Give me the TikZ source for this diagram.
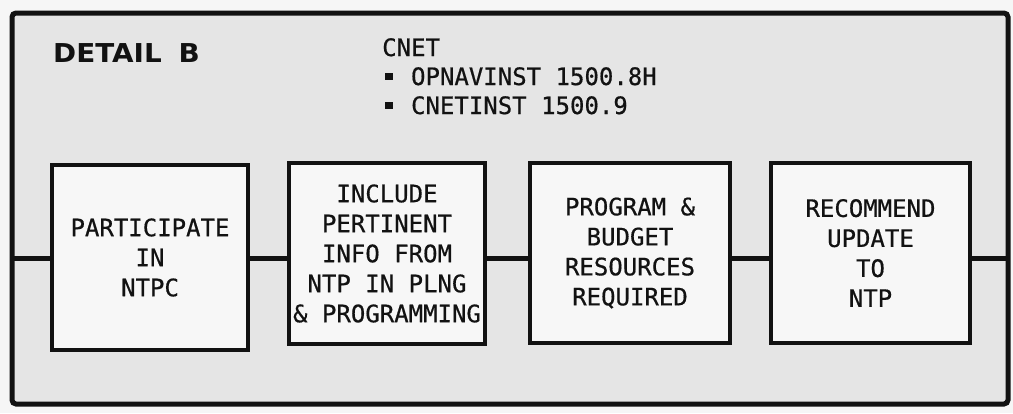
\documentclass[tikz,border=0pt]{standalone}
\usepackage{fontspec}
\usepackage{graphicx}
\newfontfamily\monofont[FakeBold=0.6]{DejaVu Sans Mono}
\newfontfamily\boldsans{DejaVu Sans}
\definecolor{pagebg}{HTML}{F6F6F6}
\definecolor{panelbg}{HTML}{E5E5E5}
\definecolor{boxbg}{HTML}{F7F7F7}
\definecolor{ink}{HTML}{121212}
\newcommand{\blt}{\makebox[14.45pt][c]{\rule[5pt]{8pt}{7pt}}}
\begin{document}
\begin{tikzpicture}[x=1pt,y=-1pt,
  panel/.style={draw=ink, line width=5pt, fill=panelbg, rounded corners=4pt, inner sep=0pt},
  stepbox/.style={draw=ink, line width=3.8pt, fill=boxbg, inner sep=0pt, align=center,
    font=\monofont\fontsize{24}{30}\selectfont, text=ink},
  link/.style={draw=ink, line width=5pt},
  txt/.style={inner sep=0pt, text=ink}]
\fill[pagebg] (0,0) rectangle (1013,413);
\useasboundingbox (0,0) rectangle (1013,413);
\node[panel, minimum width=996pt, minimum height=391pt] (frame) at (510,208.5) {};
\node[txt, anchor=base west, font=\boldsans\bfseries\fontsize{26}{30}\selectfont] (title) at (53,62)
  {\scalebox{1.07}[1]{DETAIL}\hspace{17pt}\scalebox{1.07}[1]{B}};
\node[txt, anchor=north west, align=left, font=\monofont\fontsize{24}{29}\selectfont] (cnet) at (382,38)
  {CNET\\\blt{} OPNAVINST 1500.8H\\\blt{} CNETINST 1500.9};
\coordinate (L) at (12,258);
\coordinate (R) at (1008,258);
\draw[link] (L) -- (R);
\node[stepbox, minimum width=196pt, minimum height=185pt] (b1) at (150,257.5) {PARTICIPATE\\IN\\NTPC};
\node[stepbox, minimum width=196pt, minimum height=181pt] (b2) at (387,253.5) {INCLUDE\\PERTINENT\\INFO FROM\\NTP IN PLNG\\\& PROGRAMMING};
\node[stepbox, minimum width=200pt, minimum height=180pt] (b3) at (630,253) {PROGRAM \&\\BUDGET\\RESOURCES\\REQUIRED};
\node[stepbox, minimum width=199pt, minimum height=180pt] (b4) at (870.5,253) {RECOMMEND\\UPDATE\\TO\\NTP};
\end{tikzpicture}
\end{document}
